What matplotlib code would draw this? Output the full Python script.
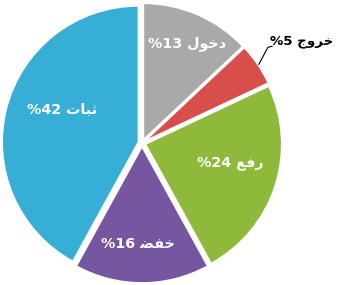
import matplotlib

matplotlib.use("Agg")
import matplotlib.pyplot as plt

# Arabic words stored in visual (left-to-right) order using presentation forms,
# since matplotlib does no bidi reordering or glyph shaping.
CATEGORIES = [
    "\uFEDD\uFEEE\uFEA7\uFEA9",        # دخول
    "\uFE9D\uFEED\uFEAE\uFEA7",        # خروج
    "\uFECA\uFED3\uFEAD",              # رفع
    "\uFEC0\uFED4\uFEA7",              # خفض
    "\uFE95\uFE8E\uFE92\uFE9B",        # ثبات
]
VALUES = [13, 5, 24, 16, 42]

COLORS = ["#a9a9a9", "#d84e4a", "#8eb93b", "#7655a1", "#37aed5"]
TEXT_COLORS = ["white", "black", "white", "white", "white"]
LABEL_POS = [(0.33, 0.73), (1.175, 0.75), (0.65, -0.15), (-0.03, -0.74), (-0.59, 0.24)]
LABEL_SIZE = [10.3, 9.6, 10.3, 10.3, 10.3]

R_PX = 136.0
CX, CY = 142.0, 143.0
W, H = 337, 285
LIM = 1.25

fig = plt.figure(figsize=(W / 100, H / 100), dpi=100)
side = 2 * LIM * R_PX
ax = fig.add_axes([(CX - side / 2) / W, (H - CY - side / 2) / H, side / W, side / H])
ax.set_xlim(-LIM, LIM)
ax.set_ylim(-LIM, LIM)
ax.set_aspect("equal")
ax.axis("off")

wedges, _ = ax.pie(
    VALUES,
    colors=COLORS,
    startangle=90,
    counterclock=False,
    explode=[0.028] * len(VALUES),
    radius=1.0,
    wedgeprops=dict(edgecolor="white", linewidth=1.0),
)

for name, val, (x, y), tc, fs in zip(CATEGORIES, VALUES, LABEL_POS, TEXT_COLORS, LABEL_SIZE):
    ax.text(x, y, f"%{val} {name}", ha="center", va="center", fontsize=fs,
            fontweight="bold", color=tc, family="DejaVu Sans")

# leader line for the small slice label
ax.plot([0.956, 0.926, 0.859], [0.711, 0.704, 0.578], color="black", linewidth=0.8)

fig.savefig("out.png", dpi=100)
